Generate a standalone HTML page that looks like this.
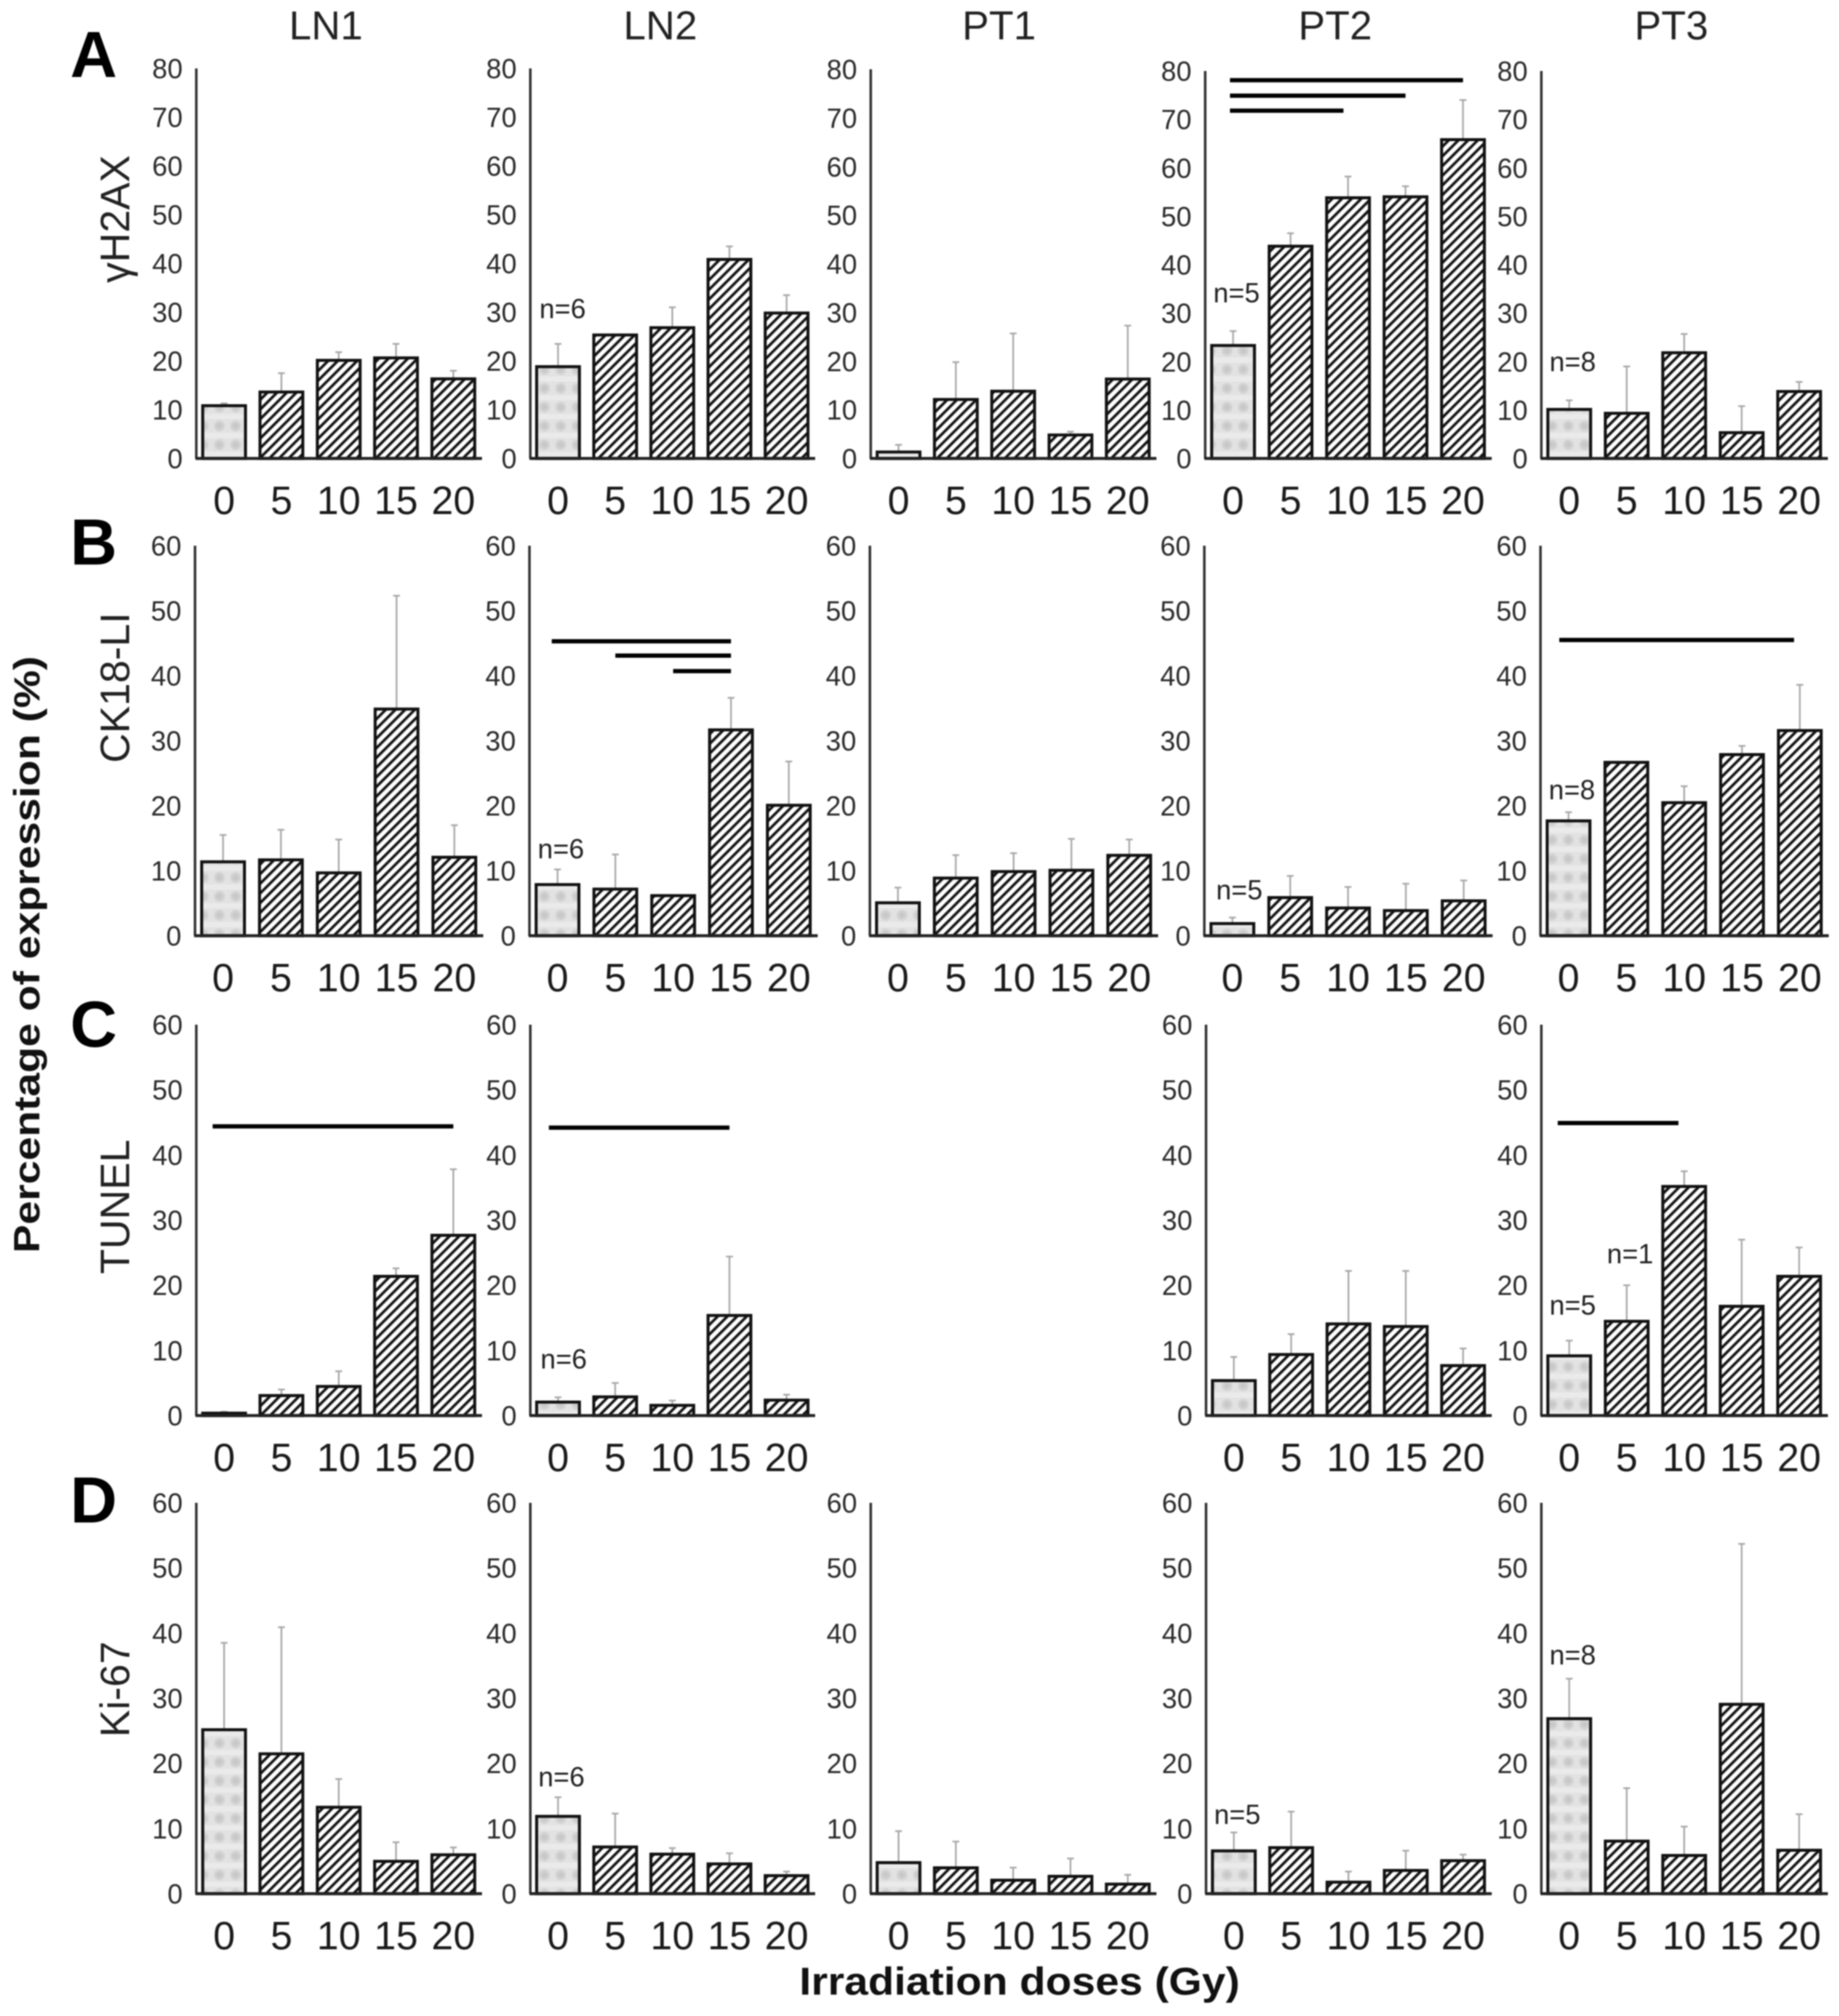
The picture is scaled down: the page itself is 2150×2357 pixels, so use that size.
<!DOCTYPE html>
<html lang="en">
<head>
<meta charset="utf-8">
<title>Percentage of expression by irradiation dose</title>
<style>
html,body{margin:0;padding:0;background:#fff;}
#figure{display:block;width:2150px;height:2357px;filter:blur(0.7px);font-family:"Liberation Sans",Arial,sans-serif;}
</style>
</head>
<body>
<svg id="figure" xmlns="http://www.w3.org/2000/svg" width="2150" height="2357" viewBox="0 0 2150 2357">
<defs>
<pattern id="hatch" width="8" height="8" patternUnits="userSpaceOnUse" patternTransform="rotate(-45)">
<rect width="8" height="8" fill="#fff"/>
<rect width="8" height="3.2" fill="#151515"/>
</pattern>
<radialGradient id="blotch">
<stop offset="0" stop-color="#c4c4c4"/>
<stop offset="0.6" stop-color="#d0d0d0"/>
<stop offset="1" stop-color="#e2e2e2"/>
</radialGradient>
<pattern id="speckle" width="19" height="22" patternUnits="userSpaceOnUse">
<rect width="19" height="22" fill="#e2e2e2"/>
<rect x="0" y="0" width="19" height="6" fill="#eaeaea"/>
<circle cx="9.5" cy="14" r="7.5" fill="url(#blotch)"/>
</pattern>
</defs>
</svg>
<script>
const categories = [0, 5, 10, 15, 20];
const ticksRowA = [0, 10, 20, 30, 40, 50, 60, 70, 80];
const ticksOther = [0, 10, 20, 30, 40, 50, 60];

const aLn1Values = [11, 13.8, 20.3, 20.8, 16.5];
const aLn1Tops = [11.3, 17.5, 21.8, 23.5, 18];
const aLn2Values = [19, 25.5, 27, 41, 30];
const aLn2Tops = [23.5, 25.5, 31, 43.5, 33.5];
const aPt1Values = [1.5, 12.3, 14, 5, 16.5];
const aPt1Tops = [2.8, 19.8, 25.7, 5.5, 27.3];
const aPt2Values = [23.5, 44, 54, 54.2, 66];
const aPt2Tops = [26.3, 46.5, 58.2, 56.2, 74];
const aPt3Values = [10.3, 9.5, 22, 5.5, 14];
const aPt3Tops = [12, 19, 25.7, 10.8, 15.8];

const bLn1Values = [11.5, 11.8, 9.8, 35, 12.2];
const bLn1Tops = [15.5, 16.3, 14.8, 52.3, 17];
const bLn2Values = [8, 7.3, 6.3, 31.8, 20.2];
const bLn2Tops = [10.2, 12.5, 6.3, 36.6, 26.8];
const bPt1Values = [5.2, 9, 10, 10.2, 12.5];
const bPt1Tops = [7.4, 12.4, 12.7, 14.9, 14.8];
const bPt2Values = [2, 6, 4.4, 4, 5.5];
const bPt2Tops = [2.8, 9.2, 7.5, 8, 8.5];
const bPt3Values = [17.8, 26.8, 20.6, 28, 31.7];
const bPt3Tops = [19, 26.8, 23, 29.2, 38.6];

const cLn1Values = [0.5, 3.2, 4.6, 21.5, 27.8];
const cLn1Tops = [0.6, 4, 6.8, 22.6, 37.8];
const cLn2Values = [2.2, 3, 1.7, 15.5, 2.5];
const cLn2Tops = [2.8, 5, 2.3, 24.4, 3.2];
const cPt2Values = [5.5, 9.5, 14.2, 13.8, 7.8];
const cPt2Tops = [9, 12.5, 22.2, 22.2, 10.3];
const cPt3Values = [9.3, 14.6, 35.3, 16.9, 21.5];
const cPt3Tops = [11.5, 20, 37.5, 27, 25.8];

const dLn1Values = [25.3, 21.6, 13.4, 5.1, 6.1];
const dLn1Tops = [38.5, 40.9, 17.6, 7.9, 7.1];
const dLn2Values = [12, 7.3, 6.2, 4.7, 2.9];
const dLn2Tops = [14.8, 12.3, 7, 6.2, 3.4];
const dPt1Values = [4.9, 4.1, 2.2, 2.8, 1.6];
const dPt1Tops = [9.6, 8, 4, 5.4, 2.9];
const dPt2Values = [6.7, 7.2, 1.9, 3.7, 5.2];
const dPt2Tops = [9.4, 12.6, 3.4, 6.6, 6];
const dPt3Values = [27, 8.2, 6, 29.2, 6.8];
const dPt3Tops = [33, 16.2, 10.3, 53.7, 12.2];

const rowLayout = {
  A: {top: 80, base: 536, max: 80, ticks: ticksRowA, letterY: 90, label: 'γH2AX', labelY: 256},
  B: {top: 638, base: 1094, max: 60, ticks: ticksOther, letterY: 660, label: 'CK18-LI', labelY: 804},
  C: {top: 1198, base: 1655, max: 60, ticks: ticksOther, letterY: 1224, label: 'TUNEL', labelY: 1411},
  D: {top: 1757, base: 2214, max: 60, ticks: ticksOther, letterY: 1780, label: 'Ki-67', labelY: 1975}
};
const columnTitles = [['LN1', 381], ['LN2', 772], ['PT1', 1168], ['PT2', 1561], ['PT3', 1954]];

const panels = [
  {row: 'A', col: 'LN1', x: 228.5, w: 335, values: aLn1Values, tops: aLn1Tops, notes: [], sig: []},
  {row: 'A', col: 'LN2', x: 619, w: 334, values: aLn2Values, tops: aLn2Tops, notes: [['n=6', 0.1, 28.8]], sig: []},
  {row: 'A', col: 'PT1', x: 1017, w: 335, top: 81, values: aPt1Values, tops: aPt1Tops, notes: [], sig: []},
  {row: 'A', col: 'PT2', x: 1408, w: 336, top: 83, values: aPt2Values, tops: aPt2Tops, notes: [['n=5', 0, 32.2]], sig: [[-0.27, 20, 78.1], [-0.27, 15, 74.9], [-0.27, 9.6, 71.8]]},
  {row: 'A', col: 'PT3', x: 1801, w: 336, top: 83, values: aPt3Values, tops: aPt3Tops, notes: [['n=8', 0, 18]], sig: []},
  {row: 'B', col: 'LN1', x: 227, w: 338, values: bLn1Values, tops: bLn1Tops, notes: [], sig: []},
  {row: 'B', col: 'LN2', x: 618, w: 338, values: bLn2Values, tops: bLn2Tops, notes: [['n=6', 0, 11.9]], sig: [[-0.5, 15, 45.3], [5, 15, 43.1], [10, 15, 40.7]]},
  {row: 'B', col: 'PT1', x: 1016, w: 338, values: bPt1Values, tops: bPt1Tops, notes: [], sig: []},
  {row: 'B', col: 'PT2', x: 1407, w: 338, values: bPt2Values, tops: bPt2Tops, notes: [['n=5', 0.3, 5.6]], sig: []},
  {row: 'B', col: 'PT3', x: 1800, w: 338, values: bPt3Values, tops: bPt3Tops, notes: [['n=8', 0, 21]], sig: [[-0.8, 19.5, 45.5]]},
  {row: 'C', col: 'LN1', x: 228.5, w: 335, values: cLn1Values, tops: cLn1Tops, notes: [], sig: [[-1, 20, 44.4]]},
  {row: 'C', col: 'LN2', x: 619, w: 334, values: cLn2Values, tops: cLn2Tops, notes: [['n=6', 0.2, 7.2]], sig: [[-0.8, 15, 44.2]]},
  {row: 'C', col: 'PT2', x: 1409, w: 335, values: cPt2Values, tops: cPt2Tops, notes: [], sig: []},
  {row: 'C', col: 'PT3', x: 1801, w: 336, values: cPt3Values, tops: cPt3Tops, notes: [['n=5', 0, 15.5], ['n=1', 5, 23.4]], sig: [[-1, 9.5, 44.9]]},
  {row: 'D', col: 'LN1', x: 228.5, w: 335, values: dLn1Values, tops: dLn1Tops, notes: [], sig: []},
  {row: 'D', col: 'LN2', x: 619, w: 334, values: dLn2Values, tops: dLn2Tops, notes: [['n=6', 0, 16.5]], sig: []},
  {row: 'D', col: 'PT1', x: 1017, w: 335, values: dPt1Values, tops: dPt1Tops, notes: [], sig: []},
  {row: 'D', col: 'PT2', x: 1409, w: 335, values: dPt2Values, tops: dPt2Tops, notes: [['n=5', 0, 10.7]], sig: []},
  {row: 'D', col: 'PT3', x: 1801, w: 336, values: dPt3Values, tops: dPt3Tops, notes: [['n=8', 0, 35.2]], sig: []}
];

const svg = document.getElementById('figure');
const NS = 'http://www.w3.org/2000/svg';

function add(parent, tag, attrs, text) {
  const el = document.createElementNS(NS, tag);
  for (const k in attrs) el.setAttribute(k, attrs[k]);
  if (text !== undefined) el.textContent = text;
  parent.appendChild(el);
  return el;
}
function slug(s) {
  return String(s).toLowerCase().replace(/[^a-z0-9]+/g, '-');
}

/* column titles */
columnTitles.forEach(function (t) {
  const el = add(svg, 'text', {x: t[1], y: 46, 'text-anchor': 'middle', 'font-size': 47, fill: '#222'}, t[0]);
  
  
});

/* row letters and row labels */
Object.keys(rowLayout).forEach(function (r) {
  const L = rowLayout[r];
  const letter = add(svg, 'text', {x: 82, y: L.letterY, 'font-size': 76, 'font-weight': 'bold', fill: '#000'}, r);
  
  
  const lab = add(svg, 'text', {x: 0, y: 0, 'text-anchor': 'middle', 'font-size': 48, fill: '#222',
    transform: 'translate(151 ' + L.labelY + ') rotate(-90)'}, L.label);
  
  
});

/* shared axis titles */
const yTitle = add(svg, 'text', {x: 0, y: 0, 'text-anchor': 'middle', 'font-size': 43, 'font-weight': 'bold', fill: '#111',
  textLength: 698, lengthAdjust: 'spacingAndGlyphs', transform: 'translate(46 1116) rotate(-90)'}, 'Percentage of expression (%)');


const xTitle = add(svg, 'text', {x: 1192, y: 2332, 'text-anchor': 'middle', 'font-size': 45, 'font-weight': 'bold', fill: '#111',
  textLength: 515, lengthAdjust: 'spacingAndGlyphs'}, 'Irradiation doses (Gy)');



/* panels */
panels.forEach(function (p) {
  const L = rowLayout[p.row];
  const plotTop = p.top !== undefined ? p.top : L.top;
  const yScale = function (v) { return L.base - (L.base - plotTop) * v / L.max; };
  const catX = function (i) { return p.x + p.w * (i + 0.5) / categories.length; };
  const doseX = function (d) { return catX(d / 5); };
  const id = slug(p.row + '-' + p.col);

  const g = add(svg, 'g', {});
  
  

  L.ticks.forEach(function (t) {
    const tl = add(g, 'text', {x: p.x - 15, y: yScale(t) + 11.5, 'text-anchor': 'end', 'font-size': 32, fill: '#2a2a2a'}, t);
    
    
  });

  categories.forEach(function (c, i) {
    const cx = catX(i);
    const top = yScale(p.tops[i]);
    const y = yScale(p.values[i]) + 1;
    if (p.tops[i] > p.values[i]) {
      const err = add(g, 'line', {x1: cx, x2: cx, y1: y, y2: top, stroke: '#a8a8a8', 'stroke-width': 2});
      
      
      const cap = add(g, 'line', {x1: cx - 4, x2: cx + 4, y1: top, y2: top, stroke: '#a8a8a8', 'stroke-width': 2});
      
      
    }
    const bar = add(g, 'rect', {x: cx - 25, y: y, width: 50, height: Math.max(0, L.base - y),
      fill: i === 0 ? 'url(#speckle)' : 'url(#hatch)', stroke: '#111', 'stroke-width': 3.5});
    
    
    const xl = add(g, 'text', {x: cx, y: L.base + 65, 'text-anchor': 'middle', 'font-size': 46, fill: '#1a1a1a'}, c);
    
    
  });

  const yAxis = add(g, 'line', {x1: p.x + 1, x2: p.x + 1, y1: plotTop, y2: L.base, stroke: '#333', 'stroke-width': 3});
  
  
  const xAxis = add(g, 'line', {x1: p.x, x2: p.x + p.w, y1: L.base, y2: L.base, stroke: '#222', 'stroke-width': 3.5});
  
  

  p.sig.forEach(function (s) {
    const line = add(g, 'line', {x1: doseX(s[0]), x2: doseX(s[1]), y1: yScale(s[2]), y2: yScale(s[2]), stroke: '#000', 'stroke-width': 5});
    
    
  });

  p.notes.forEach(function (n) {
    const note = add(g, 'text', {x: doseX(n[1]) + 4, y: yScale(n[2]), 'text-anchor': 'middle', 'font-size': 32, fill: '#222'}, n[0]);
    
    
  });
});
</script>
</body>
</html>
